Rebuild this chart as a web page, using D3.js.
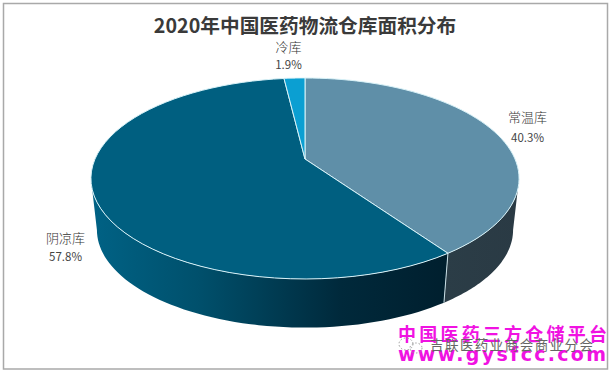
<!DOCTYPE html>
<html><head><meta charset="utf-8">
<script src="https://cdn.jsdelivr.net/npm/d3@7"></script>
<style>html,body{margin:0;padding:0;background:#fff}svg{display:block}text{font-family:"Noto Sans CJK SC","Noto Sans",sans-serif}</style>
</head><body><svg id="c" width="616" height="373"></svg>
<script>
const categories=["常温库","阴凉库","冷库"];
const values=[40.3,57.8,1.9];
const valueLabels=["40.3%","57.8%","1.9%"];
const topColors=["#5f8fa8","#005f80","#0b9fd2"];
const titleText="2020年中国医药物流仓库面积分布";
const svg=d3.select("#c");
const defs=svg.append("defs");
const g1=defs.append("linearGradient").attr("id","sideA").attr("x1",0).attr("x2",1).attr("y1",0).attr("y2",0);
g1.append("stop").attr("offset",0).attr("stop-color","#2b3d47");
g1.append("stop").attr("offset",1).attr("stop-color","#2a3a44");
const g2=defs.append("linearGradient").attr("id","sideB").attr("x1",0).attr("x2",1).attr("y1",0).attr("y2",0);
g2.append("stop").attr("offset",0).attr("stop-color","#006285");
g2.append("stop").attr("offset",0.3).attr("stop-color","#00506c");
g2.append("stop").attr("offset",0.7).attr("stop-color","#00293b");
g2.append("stop").attr("offset",1).attr("stop-color","#001f2e");
const sideFill=["url(#sideA)","url(#sideB)"];
svg.append("rect").attr("x",3.5).attr("y",3.5).attr("width",604).attr("height",365.5).attr("fill","#fff").attr("stroke","#a9a9a9").attr("stroke-width",1.5);
const arcs=d3.pie().sort(null).value(d=>d)(values);
const cx=305,cy=159,k=-0.194,Ay=96.7,Bx=210,depth=49,shrink=0.972;
function project(a,level){
  const u=Math.sin(a),s=-Math.cos(a),w=1+k*s;
  const f=level?shrink:1;
  return [cx+f*Bx*u/w, cy+f*Ay*s/w+(level?depth+3:0)];
}
function arcPts(a0,a1,level){return d3.range(0,61).map(i=>project(a0+(a1-a0)*i/60,level));}
const line=d3.line();
const turn=Math.acos(-0.194);
const sides=[[turn,arcs[0].endAngle],[arcs[0].endAngle,2*Math.PI-turn]];
sides.forEach((r,i)=>{
  const pts=arcPts(r[0],r[1],0).concat(arcPts(r[0],r[1],1).reverse());
  svg.append("path").attr("d",line(pts)+"Z").attr("fill",sideFill[i]);
});
const e=arcs[0].endAngle;
svg.append("path").attr("d",line([project(e,0),project(e,1)])).attr("stroke","#c9dfe6").attr("stroke-width",1).attr("fill","none");
arcs.forEach((d,i)=>{
  const pts=[[cx,cy]].concat(arcPts(d.startAngle,d.endAngle,0));
  svg.append("path").attr("d",line(pts)+"Z").attr("fill",topColors[i]).attr("stroke","#d8f2f8").attr("stroke-width",1).attr("stroke-linejoin","round");
});
const labelPos=[[527.5,118,138],[65.5,239,257],[288.5,48,65]];
categories.forEach((c,i)=>{
  const p=labelPos[i];
  svg.append("text").attr("x",p[0]).attr("y",p[1]+4).attr("text-anchor","middle").attr("font-size",13).attr("font-weight",300).attr("fill","#333").text(c);
  svg.append("text").attr("x",p[0]).attr("y",p[2]+4).attr("text-anchor","middle").attr("font-size",11.5).attr("fill","#444").text(valueLabels[i]);
});
svg.append("text").attr("x",305).attr("y",33).attr("text-anchor","middle").attr("font-size",19.7).attr("font-weight",700).attr("fill","#3a3a3a").text(titleText);
svg.append("text").attr("x",398).attr("y",341).attr("font-size",18).attr("font-weight",700).attr("fill","#f012e2").attr("textLength",209).attr("lengthAdjust","spacing").text("中国医药三方仓储平台");
svg.append("text").attr("x",398).attr("y",361).style("font-family","'DejaVu Sans'").attr("font-size",19).attr("font-weight",700).attr("fill","#f012e2").attr("textLength",208).attr("lengthAdjust","spacing").text("www.gysfcc.com");
svg.append("text").attr("x",430).attr("y",350).attr("font-size",13.5).attr("fill","#666").attr("textLength",163).attr("lengthAdjust","spacing").text("吉联医药业商会商业分会");
// faint icon beside the caption
svg.append("ellipse").attr("cx",406).attr("cy",344).attr("rx",7).attr("ry",6).attr("fill","none").attr("stroke","#999").attr("stroke-dasharray","1.5 2");
svg.append("ellipse").attr("cx",416).attr("cy",348).attr("rx",6).attr("ry",5).attr("fill","none").attr("stroke","#999").attr("stroke-dasharray","1.5 2");
</script></body></html>
